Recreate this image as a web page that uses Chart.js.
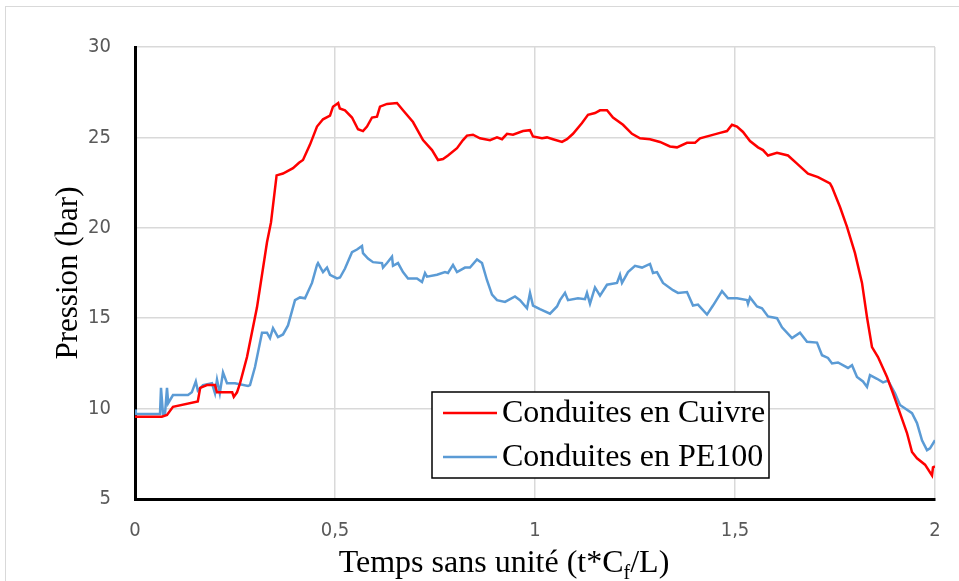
<!DOCTYPE html>
<html>
<head>
    <title>Pression - Cuivre / PE100</title>
    <script src="https://cdn.jsdelivr.net/npm/chart.js@4/dist/chart.umd.min.js"></script>
    <style>
        body { margin: 0; background: #fff; }
    </style>
</head>
<body>
    <canvas id="myChart" width="959" height="581"></canvas>

    <script>
        // temps sans unite (t*Cf/L) et pression (bar)
        var tempsCuivre = [0, 0.067, 0.08, 0.095, 0.157, 0.163, 0.18, 0.2, 0.205, 0.243, 0.247, 0.255, 0.2625, 0.28, 0.305, 0.33, 0.34, 0.354, 0.37, 0.395, 0.41, 0.42, 0.4375, 0.455, 0.47, 0.4875, 0.495, 0.508, 0.512, 0.525, 0.5425, 0.5575, 0.57, 0.58, 0.5925, 0.605, 0.6125, 0.63, 0.655, 0.67, 0.695, 0.72, 0.7425, 0.7575, 0.77, 0.7825, 0.805, 0.82, 0.83, 0.845, 0.8625, 0.8875, 0.905, 0.9175, 0.93, 0.945, 0.97, 0.9875, 0.995, 1.0175, 1.03, 1.045, 1.0675, 1.08, 1.095, 1.1175, 1.1325, 1.15, 1.1625, 1.18, 1.195, 1.22, 1.2425, 1.2625, 1.2875, 1.3125, 1.3375, 1.355, 1.38, 1.4, 1.4125, 1.4375, 1.4625, 1.48, 1.4925, 1.505, 1.52, 1.5375, 1.5575, 1.57, 1.5825, 1.605, 1.6325, 1.655, 1.6825, 1.7075, 1.7375, 1.7425, 1.7625, 1.78, 1.8, 1.8175, 1.83, 1.8425, 1.8575, 1.88, 1.895, 1.9125, 1.93, 1.9425, 1.955, 1.975, 1.9925, 1.995, 2.0];
        var pressionCuivre = [9.55, 9.55, 9.65, 10.1, 10.4, 11.15, 11.3, 11.3, 10.9, 10.9, 10.65, 10.9, 11.4, 12.85, 15.6, 19.2, 20.3, 22.9, 23.0, 23.3, 23.6, 23.75, 24.6, 25.6, 26.0, 26.2, 26.7, 26.9, 26.6, 26.5, 26.1, 25.45, 25.35, 25.6, 26.1, 26.15, 26.7, 26.85, 26.9, 26.5, 25.85, 24.85, 24.3, 23.75, 23.8, 24.0, 24.4, 24.85, 25.1, 25.15, 24.95, 24.85, 25.0, 24.9, 25.2, 25.15, 25.35, 25.4, 25.05, 24.95, 25.0, 24.9, 24.75, 24.9, 25.2, 25.8, 26.25, 26.35, 26.5, 26.5, 26.1, 25.7, 25.2, 24.95, 24.9, 24.75, 24.5, 24.45, 24.7, 24.7, 24.95, 25.1, 25.25, 25.35, 25.7, 25.6, 25.3, 24.8, 24.45, 24.3, 24.0, 24.15, 24.0, 23.55, 23.0, 22.8, 22.45, 22.25, 21.15, 20.05, 18.6, 16.95, 15.05, 13.4, 12.85, 11.75, 10.85, 9.75, 8.65, 7.6, 7.25, 6.9, 6.3, 6.75, 6.8];

        var tempsPE = [0, 0.002, 0.0625, 0.065, 0.07, 0.075, 0.08, 0.083, 0.095, 0.1325, 0.142, 0.152, 0.157, 0.17, 0.1925, 0.2, 0.205, 0.212, 0.22, 0.23, 0.25, 0.2825, 0.2875, 0.3, 0.3175, 0.33, 0.3375, 0.345, 0.3575, 0.37, 0.3825, 0.4, 0.4125, 0.425, 0.4425, 0.455, 0.4575, 0.47, 0.48, 0.4875, 0.505, 0.5125, 0.525, 0.5425, 0.555, 0.5675, 0.57, 0.5825, 0.595, 0.6175, 0.62, 0.63, 0.6425, 0.645, 0.6575, 0.67, 0.6825, 0.705, 0.7175, 0.725, 0.73, 0.755, 0.775, 0.7825, 0.795, 0.805, 0.825, 0.8375, 0.855, 0.8675, 0.88, 0.8925, 0.905, 0.925, 0.95, 0.9625, 0.98, 0.9875, 0.995, 1.0125, 1.0375, 1.055, 1.0625, 1.075, 1.0825, 1.1075, 1.125, 1.13, 1.1375, 1.15, 1.1625, 1.18, 1.205, 1.2125, 1.2175, 1.2325, 1.25, 1.2675, 1.2875, 1.295, 1.305, 1.32, 1.345, 1.3575, 1.38, 1.395, 1.4075, 1.43, 1.445, 1.4675, 1.4825, 1.505, 1.53, 1.5325, 1.5375, 1.555, 1.5675, 1.5825, 1.605, 1.6175, 1.6425, 1.6625, 1.68, 1.705, 1.7175, 1.7325, 1.7425, 1.7575, 1.7825, 1.7925, 1.805, 1.82, 1.83, 1.8375, 1.855, 1.87, 1.8825, 1.9, 1.9125, 1.9425, 1.955, 1.9675, 1.98, 1.9875, 2.0];
        var pressionPE = [9.95, 9.7, 9.7, 11.15, 9.7, 9.7, 11.15, 10.3, 10.75, 10.75, 10.9, 11.5, 11.0, 11.3, 11.4, 10.85, 11.6, 10.85, 12.0, 11.4, 11.4, 11.25, 11.3, 12.3, 14.2, 14.2, 13.9, 14.45, 13.95, 14.1, 14.6, 16.0, 16.15, 16.1, 16.95, 17.95, 18.05, 17.55, 17.8, 17.4, 17.2, 17.25, 17.75, 18.65, 18.8, 19.0, 18.6, 18.3, 18.1, 18.05, 17.8, 18.05, 18.4, 17.9, 18.05, 17.55, 17.2, 17.2, 17.0, 17.5, 17.3, 17.4, 17.55, 17.5, 17.95, 17.55, 17.8, 17.8, 18.25, 18.05, 17.1, 16.3, 16.0, 15.9, 16.2, 16.0, 15.55, 16.4, 15.7, 15.5, 15.25, 15.65, 16.0, 16.4, 16.0, 16.1, 16.05, 16.4, 15.8, 16.7, 16.25, 16.85, 16.95, 17.4, 16.95, 17.55, 17.9, 17.8, 18.0, 17.5, 17.55, 16.95, 16.55, 16.4, 16.45, 15.7, 15.75, 15.2, 15.7, 16.5, 16.1, 16.1, 16.0, 15.8, 16.15, 15.65, 15.55, 15.1, 15.0, 14.5, 13.9, 14.2, 13.7, 13.65, 12.95, 12.8, 12.5, 12.55, 12.25, 12.4, 11.75, 11.5, 11.2, 11.85, 11.65, 11.45, 11.55, 10.85, 10.2, 9.75, 9.2, 8.25, 7.7, 7.8, 8.25];

        var xTicks = [0, 0.5, 1, 1.5, 2];
        var yTicks = [5, 10, 15, 20, 25, 30];
        var nomsSeries = ['Conduites en Cuivre', 'Conduites en PE100'];
        var couleurs = ['#ff0000', '#5b9bd5'];

        function points(xs, ys) {
            var out = [];
            for (var i = 0; i < xs.length; i++) out.push({ x: xs[i], y: ys[i] });
            return out;
        }

        var serif = "'Liberation Serif', 'Times New Roman', serif";
        var tickFont = { family: "'Liberation Sans Narrow', 'DejaVu Sans Condensed', 'Open Sans', sans-serif", size: 20 };

        // cadre, titres d'axes et legende dessines a la main
        var decor = {
            id: 'decor',
            beforeDraw: function(chart) {
                var c = chart.ctx;
                c.save();
                c.fillStyle = '#fff';
                c.fillRect(0, 0, chart.width, chart.height);
                c.strokeStyle = '#d9d9d9';
                c.lineWidth = 1;
                c.strokeRect(5.5, 6.5, 1000, 1000);
                c.restore();
            },
            afterDraw: function(chart) {
                var c = chart.ctx;
                var a = chart.chartArea;
                c.save();
                c.fillStyle = '#000';
                c.textBaseline = 'alphabetic';

                // titre axe Y
                c.save();
                c.translate(77, (a.top + a.bottom) / 2);
                c.rotate(-Math.PI / 2);
                c.font = '31px ' + serif;
                c.textAlign = 'center';
                c.fillText('Pression (bar)', 0, 0);
                c.restore();

                // titre axe X avec indice f
                var p1 = 'Temps sans unité (t*C', sub = 'f', p2 = '/L)';
                c.font = '32px ' + serif;
                var w1 = c.measureText(p1).width, w2 = c.measureText(p2).width;
                c.font = '20px ' + serif;
                var ws = c.measureText(sub).width;
                var x0 = 504 - (w1 + ws + w2) / 2;
                var yb = 572;
                c.textAlign = 'left';
                c.font = '32px ' + serif;
                c.fillText(p1, x0, yb);
                c.font = '20px ' + serif;
                c.fillText(sub, x0 + w1, yb + 7);
                c.font = '32px ' + serif;
                c.fillText(p2, x0 + w1 + ws, yb);

                // legende
                var bx = 432, by = 392, bw = 337, bh = 86;
                c.fillStyle = '#fff';
                c.fillRect(bx, by, bw, bh);
                c.strokeStyle = '#000';
                c.lineWidth = 1.5;
                c.strokeRect(bx, by, bw, bh);
                chart.data.datasets.forEach(function(ds, i) {
                    var ly = 413 + i * 44;
                    c.strokeStyle = ds.borderColor;
                    c.lineWidth = 2.5;
                    c.beginPath();
                    c.moveTo(443, ly);
                    c.lineTo(497, ly);
                    c.stroke();
                    c.fillStyle = '#000';
                    c.font = '32px ' + serif;
                    c.textBaseline = 'middle';
                    c.fillText(ds.label, 502, ly + 1);
                });
                c.restore();
            }
        };

        var ctx = document.getElementById('myChart').getContext('2d');
        var chart = new Chart(ctx, {
            type: 'line',
            data: {
                datasets: [{
                    label: nomsSeries[0],
                    data: points(tempsCuivre, pressionCuivre),
                    borderColor: couleurs[0],
                    borderWidth: 2.5,
                    pointRadius: 0,
                    fill: false
                }, {
                    label: nomsSeries[1],
                    data: points(tempsPE, pressionPE),
                    borderColor: couleurs[1],
                    borderWidth: 2.5,
                    pointRadius: 0,
                    fill: false
                }]
            },
            options: {
                responsive: false,
                animation: false,
                devicePixelRatio: 1,
                layout: { padding: { left: 0, right: 24, top: 47, bottom: 0 } },
                plugins: {
                    legend: { display: false },
                    tooltip: { enabled: false }
                },
                scales: {
                    x: {
                        type: 'linear',
                        position: 'bottom',
                        min: 0,
                        max: 2,
                        afterFit: function(s) { s.height = 82; s.paddingRight = 0; s.paddingLeft = 0; },
                        afterBuildTicks: function(s) {
                            s.ticks = xTicks.map(function(v) { return { value: v }; });
                        },
                        ticks: {
                            color: '#595959',
                            font: tickFont,
                            padding: 20,
                            maxRotation: 0,
                            callback: function(v) { return String(v).replace('.', ','); }
                        },
                        grid: { color: '#d9d9d9', lineWidth: 1.5, drawTicks: false },
                        border: { color: '#000', width: 3 }
                    },
                    y: {
                        min: 5,
                        max: 30,
                        afterFit: function(s) { s.width = 135; },
                        afterBuildTicks: function(s) {
                            s.ticks = yTicks.map(function(v) { return { value: v }; });
                        },
                        ticks: {
                            color: '#595959',
                            font: tickFont,
                            padding: 24
                        },
                        grid: { color: '#d9d9d9', lineWidth: 1.5, drawTicks: false },
                        border: { color: '#000', width: 3 }
                    }
                }
            },
            plugins: [decor]
        });
    </script>
</body>
</html>
